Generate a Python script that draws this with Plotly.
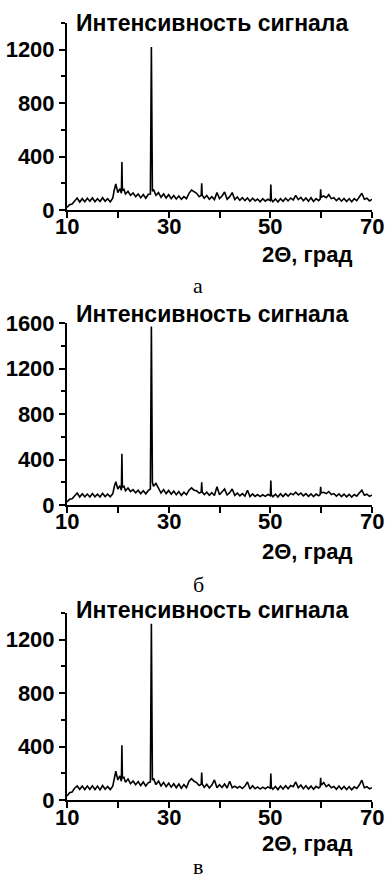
import plotly.graph_objects as go

# 2-theta angles (degrees), shared by the three patterns
two_theta = [
    10.0, 10.5, 11.0, 11.5, 12.0, 12.5, 13.0, 13.5, 14.0, 14.5,
    15.0, 15.5, 16.0, 16.5, 17.0, 17.5, 18.0, 18.5, 19.0, 19.3,
    19.6, 20.0, 20.4, 20.7, 20.8, 20.9, 21.2, 21.5, 22.0, 22.5,
    23.0, 23.5, 24.0, 24.5, 25.0, 25.5, 26.0, 26.4, 26.6, 26.8,
    27.0, 27.5, 28.0, 28.5, 29.0, 29.5, 30.0, 30.5, 31.0, 31.5,
    32.0, 32.5, 33.0, 33.5, 34.0, 34.5, 35.0, 35.5, 36.0, 36.4,
    36.5, 36.6, 37.0, 37.5, 38.0, 38.5, 39.0, 39.5, 40.0, 40.5,
    41.0, 41.5, 42.0, 42.5, 43.0, 43.5, 44.0, 44.5, 45.0, 45.5,
    46.0, 46.5, 47.0, 47.5, 48.0, 48.5, 49.0, 49.5, 50.0, 50.1,
    50.2, 50.5, 51.0, 51.5, 52.0, 52.5, 53.0, 53.5, 54.0, 54.5,
    55.0, 55.5, 56.0, 56.5, 57.0, 57.5, 58.0, 58.5, 59.0, 59.5,
    59.8, 59.9, 60.0, 60.5, 61.0, 61.5, 62.0, 62.5, 63.0, 63.5,
    64.0, 64.5, 65.0, 65.5, 66.0, 66.5, 67.0, 67.5, 68.0, 68.5,
    69.0, 69.5, 70.0,
]

# signal intensity, pattern (а)
intensity_a = [
    20, 40, 45, 70, 90, 60, 85, 62, 88, 65,
    90, 62, 85, 64, 92, 66, 84, 60, 88, 150,
    195, 130, 160, 125, 360, 145, 155, 120, 140, 110,
    128, 100, 120, 92, 115, 88, 118, 120, 1220, 140,
    155, 110, 130, 95, 120, 90, 115, 85, 108, 82,
    105, 80, 100, 85, 125, 150, 135, 125, 100, 110,
    200, 110, 88, 108, 80, 100, 78, 130, 85, 105,
    135, 80, 100, 130, 78, 98, 72, 92, 70, 90,
    65, 88, 68, 82, 62, 84, 66, 80, 70, 190,
    80, 62, 82, 60, 85, 65, 88, 68, 90, 75,
    110, 78, 95, 70, 90, 66, 92, 64, 85, 70,
    82, 155, 95, 105, 92, 115, 85, 92, 70, 88,
    66, 86, 64, 84, 62, 85, 70, 100, 125, 80,
    88, 68, 80,
]

# signal intensity, pattern (б)
intensity_b = [
    28, 50, 55, 82, 105, 70, 98, 72, 96, 70,
    100, 72, 95, 70, 102, 74, 96, 72, 98, 160,
    205, 140, 170, 130, 450, 155, 165, 125, 150, 118,
    135, 108, 130, 100, 125, 98, 128, 140, 1570, 200,
    165, 190, 140, 105, 135, 100, 128, 95, 122, 90,
    118, 85, 112, 90, 130, 150, 130, 125, 105, 112,
    200, 115, 92, 112, 85, 108, 84, 160, 90, 115,
    140, 88, 108, 140, 85, 105, 80, 100, 78, 130,
    75, 98, 76, 92, 74, 90, 76, 92, 82, 215,
    90, 72, 95, 70, 98, 74, 100, 78, 102, 90,
    112, 88, 105, 80, 100, 76, 98, 74, 96, 82,
    92, 160, 105, 112, 100, 118, 92, 100, 78, 98,
    74, 96, 72, 94, 70, 92, 78, 105, 130, 86,
    95, 76, 86,
]

# signal intensity, pattern (в)
intensity_c = [
    30, 55, 60, 88, 105, 80, 105, 78, 104, 80,
    106, 78, 104, 76, 108, 80, 102, 78, 104, 175,
    215, 150, 180, 140, 410, 165, 170, 132, 158, 122,
    142, 115, 138, 108, 135, 105, 130, 135, 1320, 150,
    162, 115, 142, 105, 132, 100, 126, 96, 122, 92,
    120, 88, 115, 92, 140, 160, 140, 130, 108, 118,
    205, 120, 95, 118, 90, 112, 150, 92, 115, 94,
    120, 90, 140, 92, 104, 90, 102, 86, 104, 135,
    82, 106, 84, 98, 82, 96, 84, 98, 88, 198,
    95, 80, 102, 78, 105, 82, 106, 84, 108, 100,
    135, 92, 112, 84, 106, 82, 104, 80, 102, 90,
    98, 166, 110, 130, 100, 115, 92, 102, 80, 104,
    80, 102, 78, 100, 76, 98, 86, 112, 148, 92,
    100, 84, 92,
]

y_ranges = [[0, 1400], [0, 1600], [0, 1400]]
y_tickvals = [[0, 400, 800, 1200], [0, 400, 800, 1200, 1600], [0, 400, 800, 1200]]
x_tickvals = [10, 30, 50, 70]
captions = ["а", "б", "в"]
y_title = "Интенсивность сигнала"
x_title = "2Θ, град"

W, H = 386, 881
# pixel geometry of the three panels: (top, bottom)
panels_px = [(23, 210), (323, 505), (613, 800)]
x_left, x_right = 67, 372
title_y_px = [23, 314, 610]
xtick_y_px = [226, 521, 817]
xlab_y_px = [255, 551, 843]
cap_y_px = [286, 584, 866]

fig = go.Figure()
series = [intensity_a, intensity_b, intensity_c]
FONT = "Liberation Sans, Arial, sans-serif"
tickfont = dict(family=FONT, size=22, color="black", weight="bold")

annotations = []
for i in range(3):
    sfx = "" if i == 0 else str(i + 1)
    fig.add_trace(go.Scatter(
        x=two_theta, y=series[i], mode="lines",
        line=dict(color="black", width=1.6),
        xaxis="x" + sfx, yaxis="y" + sfx, showlegend=False, hoverinfo="skip",
    ))
    top, bot = panels_px[i]
    xa = dict(
        domain=[x_left / W, x_right / W], range=[10, 70], anchor="y" + sfx,
        tickvals=x_tickvals, ticks="outside", ticklen=6, tickwidth=1.5,
        tickcolor="black", showline=True, linecolor="black", linewidth=2,
        showgrid=False, zeroline=False, showticklabels=False, automargin=False,
        minor=dict(tickvals=[20, 40, 60], ticks="outside", ticklen=6,
                   tickwidth=1.5, tickcolor="black", showgrid=False),
    )
    ya = dict(
        domain=[1 - bot / H, 1 - top / H], range=y_ranges[i], anchor="x" + sfx,
        tickvals=y_tickvals[i], ticks="outside", ticklen=6, tickwidth=1.5,
        tickcolor="black", showline=True, linecolor="black", linewidth=2,
        showgrid=False, zeroline=False, tickfont=tickfont, automargin=False,
        minor=dict(dtick=200, tick0=0, ticks="outside", ticklen=4,
                   tickwidth=1.5, tickcolor="black", showgrid=False),
    )
    fig.update_layout({"xaxis" + sfx: xa, "yaxis" + sfx: ya})

    for xv in x_tickvals:
        annotations.append(dict(
            text=str(xv), xref="x" + sfx, yref="paper", x=xv,
            y=1 - xtick_y_px[i] / H, xanchor="center", yanchor="middle",
            showarrow=False, font=tickfont,
        ))
    annotations.append(dict(
        text=y_title, xref="paper", yref="paper", x=(x_left + 7) / W,
        y=1 - title_y_px[i] / H, xanchor="left", yanchor="middle",
        showarrow=False, font=dict(family=FONT, size=23, color="black", weight="bold"),
    ))
    annotations.append(dict(
        text=x_title, xref="paper", yref="paper", x=354 / W,
        y=1 - xlab_y_px[i] / H, xanchor="right", yanchor="middle",
        showarrow=False, font=dict(family=FONT, size=22, color="black", weight="bold"),
    ))
    annotations.append(dict(
        text=captions[i], xref="paper", yref="paper", x=198 / W,
        y=1 - cap_y_px[i] / H, xanchor="center", yanchor="middle",
        showarrow=False, font=dict(family="Liberation Serif, Times New Roman, serif",
                                   size=22, color="black"),
    ))

fig.update_layout(
    template="none", width=W, height=H,
    margin=dict(l=0, r=0, t=0, b=0, pad=0),
    paper_bgcolor="white", plot_bgcolor="white",
    annotations=annotations, showlegend=False,
)

fig.write_html(
    "out.html",
    config={"displayModeBar": False},
    post_script="document.body.style.margin='0';document.body.style.overflow='hidden';",
)
